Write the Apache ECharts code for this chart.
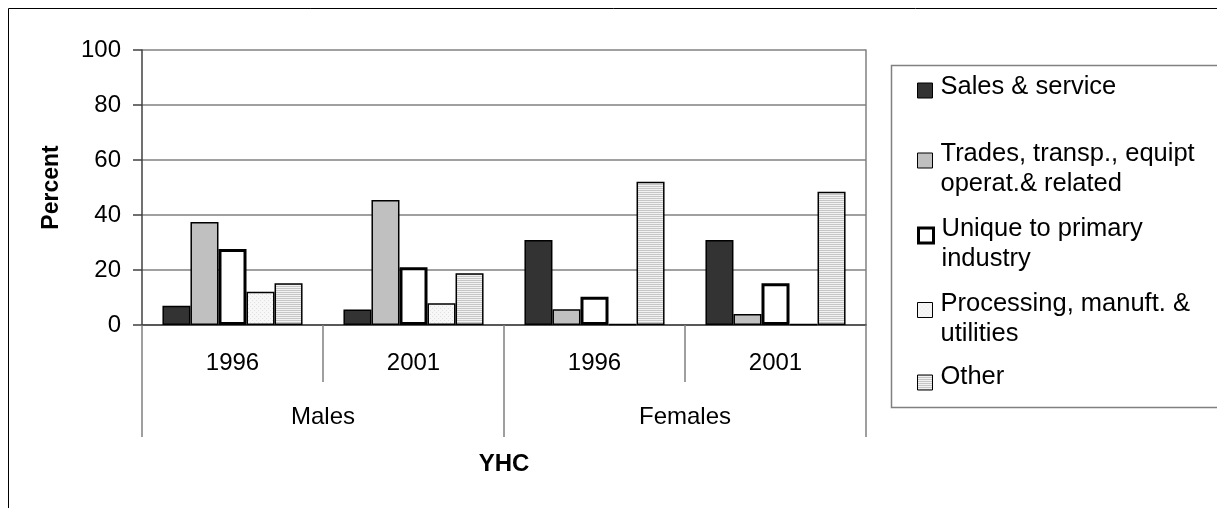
<!DOCTYPE html>
<html>
<head>
<meta charset="utf-8">
<script src="https://cdn.jsdelivr.net/npm/echarts@6/dist/echarts.min.js"></script>
<style>
html,body{margin:0;padding:0;background:#fff;}
#chart{width:1217px;height:508px;}
</style>
</head>
<body>
<div id="chart"></div>
<script>
// ---- data ----
const years = ['1996', '2001', '1996', '2001'];
const groups = ['Males', 'Females'];
const yTicks = [0, 20, 40, 60, 80, 100];
const salesService = [7.0, 5.6, 30.9, 30.9];
const tradesTransp = [37.5, 45.5, 5.7, 4.0];
const uniquePrimary = [27.6, 21.0, 10.3, 15.2];
const processingManuf = [12.1, 7.9, 0.4, 0.4];
const otherOcc = [15.2, 18.8, 52.1, 48.5];
const seriesNames = ['Sales & service', 'Trades, transp., equipt', 'Unique to primary', 'Processing, manuft. &', 'Other'];
const legendSecondLines = ['', 'operat.& related', 'industry', 'utilities', ''];

// ---- patterns ----
function makePattern(draw, w, h) {
  const c = document.createElement('canvas');
  c.width = w; c.height = h;
  const ctx = c.getContext('2d');
  draw(ctx);
  return { image: c, repeat: 'repeat' };
}
const dotPattern = makePattern(ctx => {
  ctx.fillStyle = '#f7f7f7'; ctx.fillRect(0, 0, 4, 4);
  ctx.fillStyle = '#e0e0e0';
  ctx.fillRect(0, 0, 1, 1); ctx.fillRect(2, 2, 1, 1);
}, 4, 4);
const stripePattern = makePattern(ctx => {
  ctx.fillStyle = '#f2f2f2'; ctx.fillRect(0, 0, 2, 2);
  ctx.fillStyle = '#c6c6c6'; ctx.fillRect(0, 0, 2, 1);
}, 2, 2);

const FONT = 'Liberation Sans, Arial, sans-serif';
const styles = [
  { color: '#333333', borderColor: '#000', borderWidth: 1.5 },
  { color: '#c0c0c0', borderColor: '#000', borderWidth: 1.5 },
  { color: '#ffffff', borderColor: '#000', borderWidth: 3 },
  { color: dotPattern, borderColor: '#000', borderWidth: 1.5 },
  { color: stripePattern, borderColor: '#000', borderWidth: 1.5 }
];
const values = [salesService, tradesTransp, uniquePrimary, processingManuf, otherOcc];

// legend item tops
const legendTops = [73.5, 125.5, 200.5, 275, 364];

function legendFormatter(i) {
  return function (name) {
    const second = legendSecondLines[i];
    if (second) return '{s| }\n{t|' + name + '}\n{t|' + second + '}';
    return '{t|' + name + '}\n{b| }';
  };
}

const chart = echarts.init(document.getElementById('chart'), null, { renderer: 'canvas' });
const option = {
  animation: false,
  backgroundColor: '#fff',
  graphic: [
    { type: 'rect', shape: { x: 8.5, y: 8.5, width: 1300, height: 700 }, style: { fill: 'none', stroke: '#000', lineWidth: 1 }, silent: true, z: -10 },
    { type: 'rect', shape: { x: 891.5, y: 65.5, width: 400, height: 342 }, style: { fill: 'none', stroke: '#808080', lineWidth: 1.5 }, silent: true, z: -10 }
  ],
  grid: { left: 142, right: 351, top: 50, bottom: 183, containLabel: false },
  legend: seriesNames.map((n, i) => ({
    data: [n],
    left: 917,
    top: legendTops[i],
    padding: 0,
    icon: 'rect',
    itemWidth: 15,
    itemHeight: 15,
    selectedMode: false,
    formatter: legendFormatter(i),
    itemStyle: { borderColor: '#000', borderWidth: i === 2 ? 3 : 1 },
    textStyle: {
      fontFamily: FONT, fontSize: 25.5, color: '#000',
      rich: {
        t: { fontFamily: FONT, fontSize: 25.5, color: '#000', lineHeight: 30, padding: [0, 0, 0, 3] },
        s: { fontSize: 10, lineHeight: 17 },
        b: { fontSize: 8, lineHeight: i === 0 ? 8 : 11 }
      }
    }
  })),
  xAxis: [
    {
      type: 'category',
      data: years,
      position: 'bottom',
      axisLine: { show: true, lineStyle: { color: '#404040', width: 1.5 } },
      axisTick: { show: true, interval: 0, length: 57, lineStyle: { color: '#808080', width: 1.5 } },
      axisLabel: { fontFamily: FONT, fontSize: 24, color: '#000', margin: 26, interval: 0 },
      splitLine: { show: false }
    },
    {
      type: 'category',
      data: groups,
      position: 'bottom',
      axisLine: { show: false },
      axisTick: { show: true, interval: 0, length: 112, lineStyle: { color: '#808080', width: 1.5 } },
      axisLabel: { fontFamily: FONT, fontSize: 24, color: '#000', margin: 80, interval: 0 },
      name: 'YHC',
      nameLocation: 'middle',
      nameGap: 127,
      nameTextStyle: { fontFamily: FONT, fontSize: 24, fontWeight: 'bold', color: '#000' }
    }
  ],
  yAxis: [
    {
      type: 'value',
      min: 0, max: 100, interval: 20,
      name: 'Percent',
      nameLocation: 'middle',
      nameGap: 79,
      nameRotate: 90,
      nameTextStyle: { fontFamily: FONT, fontSize: 23, fontWeight: 'bold', color: '#000' },
      axisLine: { show: true, lineStyle: { color: '#404040', width: 1.5 } },
      axisTick: { show: true, length: 9, lineStyle: { color: '#404040', width: 1.5 } },
      axisLabel: { fontFamily: FONT, fontSize: 24, color: '#000', margin: 21, formatter: v => yTicks.includes(v) ? String(v) : '' },
      splitLine: { show: true, lineStyle: { color: '#808080', width: 1.5 } }
    },
    {
      type: 'value',
      min: 0, max: 100, interval: 20,
      position: 'right',
      axisLine: { show: true, lineStyle: { color: '#808080', width: 1.5 } },
      axisTick: { show: false },
      axisLabel: { show: false },
      splitLine: { show: false }
    }
  ],
  series: seriesNames.map((n, i) => ({
    name: n,
    type: 'bar',
    xAxisIndex: 0,
    yAxisIndex: 0,
    data: values[i],
    barGap: '0%',
    barCategoryGap: '22.6%',
    itemStyle: styles[i]
  }))
};
chart.setOption(option);
</script>
</body>
</html>
